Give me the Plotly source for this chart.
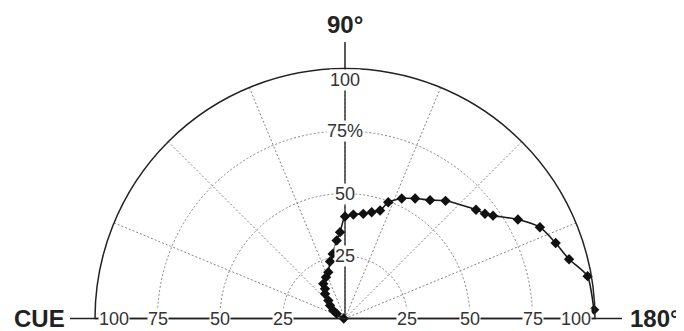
import plotly.graph_objects as go

# ---- data (angle in degrees from CUE, response in %) ----
theta = [0, 29.5, 34.4, 40.9, 47.1, 51, 56, 58, 65.3, 70.2, 75.3, 79.2, 83.9, 86.7,
         90, 94.6, 99.9, 104.1, 108, 110.4, 115.3, 120.3, 125.7, 130.5, 140.3, 143.2,
         145.2, 150.2, 154.9, 160.3, 165.2, 170.1, 178, 180]
r_vals = [0.5, 3.8, 5.7, 7.9, 9.8, 12.7, 14.3, 16.4, 18.2, 19.7, 23.6, 26.3, 31.4, 34.6,
          40.8, 41.7, 42.5, 43.8, 45.4, 49.6, 53.1, 55.6, 58.3, 61.9, 68.1, 69.9,
          72.1, 79.7, 86.1, 89.5, 92.7, 98.5, 99.7, 100.5]

radial_ticks = [25, 50, 75, 100]
radial_labels_h = ["25", "50", "75", "100"]
radial_labels_v = ["25", "50", "75%", "100"]
angle_labels = ["CUE", "90°", "180°"]

W, H = 684, 331
OFF = 8  # page body margin offset
CX, CY, R = 345 - OFF, 318.5 - OFF, 250.0  # pixel geometry of the polar subplot (figure coords)
RMAX = 100.0


def px(x):
    return x / W


def py(y):
    return 1 - y / H


fig = go.Figure()
fig.add_trace(go.Scatterpolar(
    theta=theta, r=r_vals, mode="lines+markers",
    line=dict(color="#1a1a1a", width=1.6, shape="spline", smoothing=0.6),
    marker=dict(symbol="diamond", size=8, color="#111111"),
    cliponaxis=False, showlegend=False,
))

grid_col = "#858585"
fig.update_layout(
    width=W, height=H,
    margin=dict(l=0, r=0, t=0, b=0),
    paper_bgcolor="white",
    polar=dict(
        domain=dict(x=[px(CX - R), px(CX + R)], y=[py(CY), py(CY - R)]),
        sector=[0, 180],
        bgcolor="rgba(0,0,0,0)",
        radialaxis=dict(range=[0, RMAX], tickvals=[25, 50, 75], showticklabels=False,
                        ticks="", showline=False, gridcolor=grid_col, griddash="2px,2px",
                        gridwidth=1),
        angularaxis=dict(rotation=180, direction="clockwise", tickmode="linear",
                         tick0=0, dtick=22.5, showticklabels=False, ticks="",
                         showline=True, linecolor="#222222", linewidth=1.5,
                         gridcolor=grid_col, griddash="2px,2px", gridwidth=1),
    ),
)

# axis lines (horizontal through the centre, vertical going above the arc)
line_style = dict(color="#222222", width=1.5)
fig.add_shape(type="line", xref="paper", yref="paper", x0=px(70 - OFF), x1=px(622 - OFF),
              y0=py(CY), y1=py(CY), line=line_style, layer="below")
fig.add_shape(type="line", xref="paper", yref="paper", x0=px(CX), x1=px(CX),
              y0=py(CY), y1=py(42 - OFF), line=line_style, layer="below")

tick_font = dict(family="Liberation Sans, Arial", size=18, color="#333333")
for val, lab_h, lab_v in zip(radial_ticks, radial_labels_h, radial_labels_v):
    d = val / RMAX * R
    inset = 19 if val == RMAX else 0
    # left and right along the horizontal axis
    for sgn in (-1, 1):
        fig.add_annotation(x=px(CX + sgn * (d - inset)), y=py(CY), xref="paper", yref="paper",
                           text=lab_h, showarrow=False, font=tick_font,
                           bgcolor="white", borderpad=0, xanchor="center", yanchor="middle")
    # vertical axis
    vinset = 11 if val == RMAX else 0
    fig.add_annotation(x=px(CX), y=py(CY - d + vinset), xref="paper", yref="paper",
                       text=lab_v, showarrow=False, font=tick_font,
                       bgcolor="white", borderpad=0, xanchor="center", yanchor="middle")

big_font = dict(family="Liberation Sans, Arial", size=24, color="#222222")
fig.add_annotation(x=px(39 - OFF), y=py(CY), xref="paper", yref="paper",
                   text="<b>%s</b>" % angle_labels[0],
                   showarrow=False, font=big_font, xanchor="center", yanchor="middle")
fig.add_annotation(x=px(CX), y=py(24 - OFF), xref="paper", yref="paper",
                   text="<b>%s</b>" % angle_labels[1],
                   showarrow=False, font=big_font, xanchor="center", yanchor="middle")
fig.add_annotation(x=px(655 - OFF), y=py(CY), xref="paper", yref="paper",
                   text="<b>%s</b>" % angle_labels[2],
                   showarrow=False, font=big_font, xanchor="center", yanchor="middle")

fig.write_html("out.html")
